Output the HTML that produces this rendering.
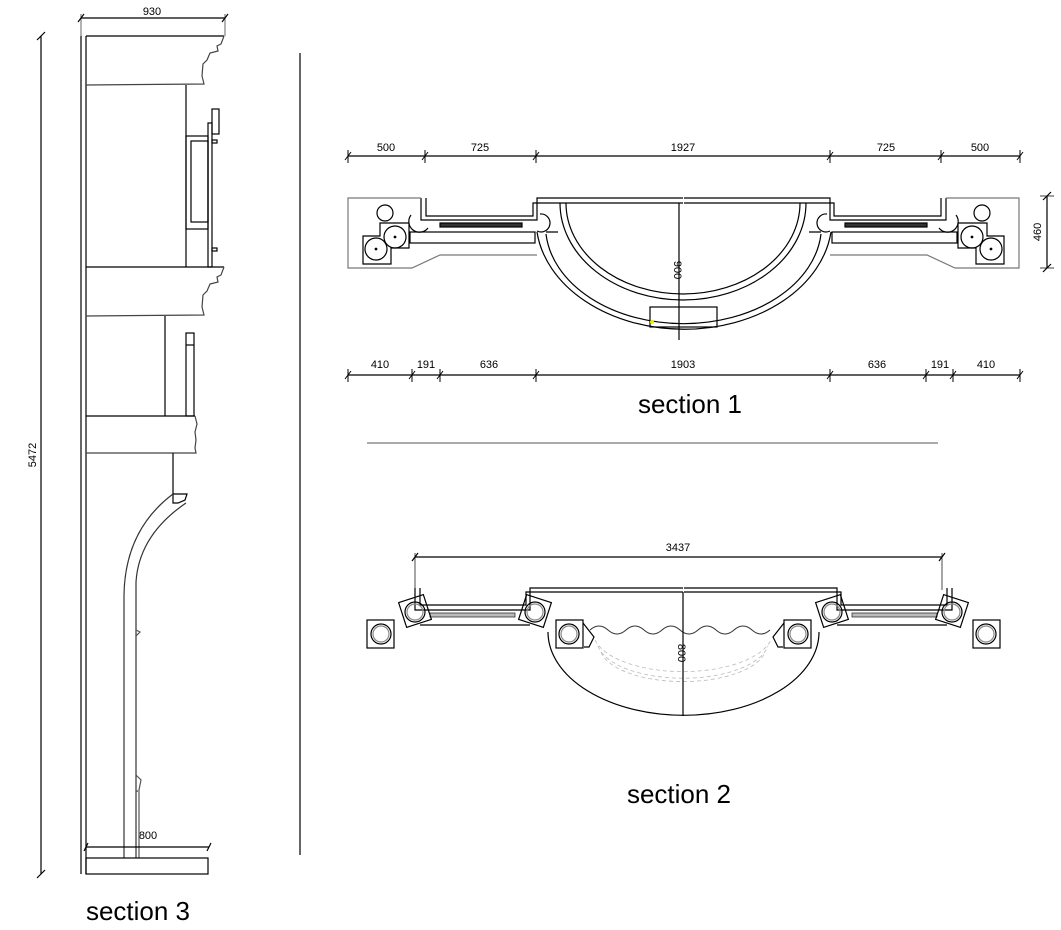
<!DOCTYPE html>
<html><head><meta charset="utf-8"><style>
html,body{margin:0;padding:0;background:#fff;}
svg{display:block;font-family:"Liberation Sans",sans-serif;}
</style></head><body>
<svg width="1061" height="930" viewBox="0 0 1061 930" xmlns="http://www.w3.org/2000/svg">
<g fill="none" stroke="#000" stroke-width="1.2">
<!-- SECTION 3 -->
<line x1="81" y1="36" x2="81" y2="874"/><line x1="86" y1="36" x2="86" y2="874"/>
<line x1="81" y1="18" x2="225" y2="18"/>
<line x1="78" y1="22" x2="84" y2="14"/><line x1="222" y1="22" x2="228" y2="14"/>
<line x1="81" y1="14" x2="81" y2="36" stroke-width="0.6"/><line x1="225" y1="14" x2="225" y2="36" stroke-width="0.6"/>
<line x1="41" y1="36" x2="41" y2="874"/>
<line x1="37" y1="40" x2="45" y2="32"/><line x1="37" y1="878" x2="45" y2="870"/>
<line x1="86" y1="36" x2="224" y2="36"/>
<path d="M224,36 L221,44 L217,46 L218,51 L210,53 L207,60 L203,64 L202,76 L204,84 L86,85" stroke="#444"/>
<line x1="186" y1="85" x2="186" y2="267"/>
<rect x="186" y="136" width="22" height="93"/>
<rect x="191" y="141" width="17" height="81"/>
<rect x="208" y="123" width="4" height="144"/>
<rect x="212" y="109" width="7" height="25"/>
<rect x="212" y="140" width="5" height="3"/><rect x="212" y="248" width="5" height="3"/>
<line x1="86" y1="267" x2="224" y2="267"/>
<path d="M224,267 L221,275 L217,277 L218,282 L210,284 L207,291 L203,295 L202,307 L204,315 L86,316" stroke="#444"/>
<line x1="165" y1="316" x2="165" y2="416"/>
<rect x="186" y="333" width="8" height="83"/><line x1="186" y1="345" x2="194" y2="345"/>
<line x1="86" y1="416" x2="195" y2="416"/>
<path d="M195,416 L197,424 L195,432 L196,440 L195,448 L196,453 L86,453" stroke="#444"/>
<line x1="173" y1="453" x2="173" y2="494"/>
<path d="M173,494 L187,494 L185,500 L178,503 L173,503 Z"/>
<path d="M173,494 Q125,530 124,595 L124,858" stroke="#333"/>
<path d="M186,503 Q139,535 136,582 L136,858" stroke="#333"/>
<path d="M136,630 L140,632 L136,636 M136,775 L141,780 L139,790 L136,792" stroke="#555"/>
<line x1="139" y1="790" x2="139" y2="858" stroke="#999" stroke-width="2"/>
<rect x="86" y="858" width="122" height="16"/>
<line x1="86" y1="847" x2="209" y2="847"/>
<line x1="84" y1="851" x2="88" y2="843"/><line x1="207" y1="851" x2="211" y2="843"/>
<line x1="300" y1="53" x2="300" y2="855"/>

<!-- SECTION 1 dims -->
<line x1="348" y1="156" x2="1020" y2="156"/>
<g stroke-width="1">
<path d="M345,160 L351,152 M422,160 L428,152 M533,160 L539,152 M827,160 L833,152 M938,160 L944,152 M1017,160 L1023,152"/>
<path d="M348,150 V163 M425,150 V163 M536,150 V163 M830,150 V163 M941,150 V163 M1020,150 V163"/>
</g>
<line x1="348" y1="375" x2="1020" y2="375"/>
<g stroke-width="1">
<path d="M345,379 L351,371 M409,379 L415,371 M437,379 L443,371 M533,379 L539,371 M827,379 L833,371 M923,379 L929,371 M950,379 L956,371 M1017,379 L1023,371"/>
<path d="M348,369 V382 M412,369 V382 M440,369 V382 M536,369 V382 M830,369 V382 M926,369 V382 M953,369 V382 M1020,369 V382"/>
</g>
<line x1="1047" y1="196" x2="1047" y2="268"/>
<path d="M1043,200 L1051,192 M1043,272 L1051,264"/>
<path d="M1040,196 H1054 M1040,268 H1054" stroke-width="0.8"/>
<!-- SECTION 1 drawing half (left) -->
<g id="h1">
<path d="M421,198 L421,220 L537,220 L537,198 L683,198" />
<path d="M426,198 L426,216 L533,216 L533,203 L683,203" />
<path d="M421,198 L348,198 L348,268 L412,268 L440,255 L537,255" stroke="#777"/>
<rect x="410" y="232" width="125" height="11"/>
<rect x="440" y="223" width="82" height="4" fill="#333"/>
<circle cx="385" cy="213" r="8"/>
<path d="M380,223 H409 V248 H391 V264 H363 V236 H380 Z"/>
<circle cx="395" cy="237" r="11"/><circle cx="376" cy="249" r="11"/>
<circle cx="395" cy="237" r="0.8" fill="#000"/><circle cx="376" cy="249" r="0.8" fill="#000"/>
<path d="M411,215 A9,9 0 0,0 428,228"/>
<path d="M540,214 A9,9 0 1,1 537,231"/>
</g>
<use href="#h1" transform="translate(1367,0) scale(-1,1)"/>
<path d="M537,232 A148,110 0 0,0 831,232"/>
<path d="M546,232 L558,232 M809,232 L821,232"/>
<path d="M546,234 A138,98 0 0,0 821,234"/>
<path d="M560,203 A123,97 0 0,0 806,203"/>
<path d="M566,203 A117,91 0 0,0 800,203"/>
<rect x="650" y="307" width="67" height="20" fill="none"/>
<line x1="679" y1="203" x2="679" y2="340"/>
<circle cx="652" cy="322" r="2" fill="#ee0" stroke="none"/>
<line x1="367" y1="443" x2="938" y2="443" stroke="#777"/>

<!-- SECTION 2 -->
<line x1="415" y1="557" x2="942" y2="557"/>
<path d="M412,561 L418,553 M939,561 L945,553"/>
<path d="M415,553 V590 M942,553 V590" stroke-width="0.7"/>
<g id="h2">
<path d="M415,588 L415,610 L530,610 L530,588 L683,588"/>
<path d="M420,588 L420,605 L526,605 L526,592 L683,592"/>
<line x1="420" y1="625" x2="530" y2="625"/>
<rect x="430" y="613" width="85" height="4" fill="#bbb" stroke="#333" stroke-width="0.8"/>
<rect x="367" y="620" width="27" height="28"/>
<circle cx="381" cy="634" r="10"/><circle cx="381" cy="634" r="8" stroke="#888"/>
<rect x="402" y="598" width="26" height="26" transform="rotate(-18 415 611)"/>
<circle cx="415" cy="612" r="10"/><circle cx="415" cy="612" r="8" stroke="#888"/>
<rect x="522" y="598" width="26" height="26" transform="rotate(18 535 611)"/>
<circle cx="535" cy="612" r="10"/><circle cx="535" cy="612" r="8" stroke="#888"/>
<rect x="556" y="620" width="27" height="28"/>
<circle cx="569" cy="634" r="10"/><circle cx="569" cy="634" r="8" stroke="#888"/>
<path d="M583,623 L594,637 L589,647 L584,647"/>
</g>
<use href="#h2" transform="translate(1367,0) scale(-1,1)"/>
<path d="M548,632 A135,83 0 0,0 819,632"/>
<path d="M590,630 q9,-8 18,0 t18,0 t18,0 t18,0 t18,0 t18,0 t18,0 t18,0 t18,0 t18,0" stroke="#333" stroke-width="1"/>
<path d="M595,640 A90,40 0 0,0 771,640 M598,646 A86,38 0 0,0 768,646 M601,652 A83,35 0 0,0 765,652" stroke="#bbb" stroke-dasharray="4,3" stroke-width="0.8"/>
<line x1="683" y1="592" x2="683" y2="716"/>
</g>
<g fill="#000" font-size="11">
<text x="152" y="15" text-anchor="middle">930</text>
<text x="148" y="839" text-anchor="middle">800</text>
<text transform="translate(36,455) rotate(-90)" text-anchor="middle">5472</text>
<text x="386" y="151" text-anchor="middle">500</text>
<text x="480" y="151" text-anchor="middle">725</text>
<text x="683" y="151" text-anchor="middle">1927</text>
<text x="886" y="151" text-anchor="middle">725</text>
<text x="980" y="151" text-anchor="middle">500</text>
<text x="380" y="368" text-anchor="middle">410</text>
<text x="426" y="368" text-anchor="middle">191</text>
<text x="489" y="368" text-anchor="middle">636</text>
<text x="683" y="368" text-anchor="middle">1903</text>
<text x="877" y="368" text-anchor="middle">636</text>
<text x="940" y="368" text-anchor="middle">191</text>
<text x="986" y="368" text-anchor="middle">410</text>
<text transform="translate(1041,232) rotate(-90)" text-anchor="middle">460</text>
<text transform="translate(674,270) rotate(90)" text-anchor="middle">900</text>
<text transform="translate(678,653) rotate(90)" text-anchor="middle">800</text>
<text x="678" y="551" text-anchor="middle">3437</text>
<text x="690" y="413" font-size="26" text-anchor="middle">section 1</text>
<text x="679" y="803" font-size="26" text-anchor="middle">section 2</text>
<text x="138" y="920" font-size="26" text-anchor="middle">section 3</text>
</g>
</svg>
</body></html>
